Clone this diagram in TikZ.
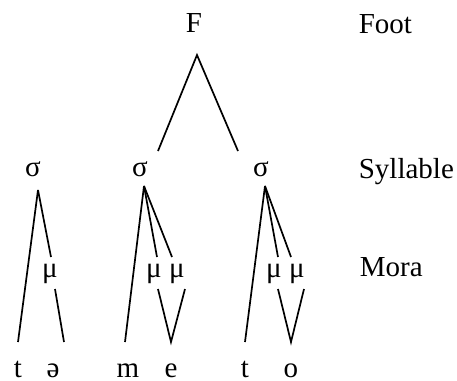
\documentclass[tikz,border=0pt]{standalone}
\usepackage{fontspec}
\setmainfont{Liberation Serif}
\tikzstyle{lbl}=[inner sep=0, anchor=base, font=\fontsize{14.5}{17}\selectfont]
\tikzstyle{lvl}=[lbl, anchor=base west]
\begin{document}
\begin{tikzpicture}[x=0.5pt, y=-0.5pt, line width=0.85pt]
\useasboundingbox (0,0) rectangle (457,381);
% tiers
\node[lbl] (F) at (194,32) {F};
\foreach \x/\n in {33/1,140/2,261/3}
	\node[lbl] (s\n) at (\x,176) {σ};
\foreach \x/\n in {50/1,154/2,177/3,274/4,297/5}
	\node[lbl] (m\n) at (\x,277) {μ};
\foreach \x/\n/\t in {18/1/t,53/2/ə,128/3/m,171/4/e,245/5/t,291/6/o}
	\node[lbl] (g\n) at (\x,377) {\t};
\node[lvl] (foot) at (358,33) {Foot};
\node[lvl] (syl) at (358,178) {Syllable};
\node[lvl] (mora) at (359,276) {Mora};
% line ends
\coordinate (Fb) at (197,55);
\coordinate (s2t) at (158,151);
\coordinate (s3t) at (238,151);
\coordinate (s1b) at (38,190);
\coordinate (s2b) at (144,186);
\coordinate (s3b) at (265,186);
\foreach \x/\n in {51/1,157/2,172/3,278/4,291/5}
	\coordinate (m\n t) at (\x,257);
\foreach \x/\n in {55/1,158/2,185/3,278/4,304/5}
	\coordinate (m\n b) at (\x,289);
\foreach \x/\n in {18/1,64/2,125/3,171/4,245/5,291/6}
	\coordinate (g\n t) at (\x,342);
% association lines
\draw (s2t)--(Fb)--(s3t);
\draw (s1b)--(g1t);
\draw (s1b)--(m1t);
\draw (m1b)--(g2t);
\draw (s2b)--(g3t);
\draw (s2b)--(m2t);
\draw (s2b)--(m3t);
\draw (m2b)--(g4t)--(m3b);
\draw (s3b)--(g5t);
\draw (s3b)--(m4t);
\draw (s3b)--(m5t);
\draw (m4b)--(g6t)--(m5b);
\end{tikzpicture}
\end{document}
